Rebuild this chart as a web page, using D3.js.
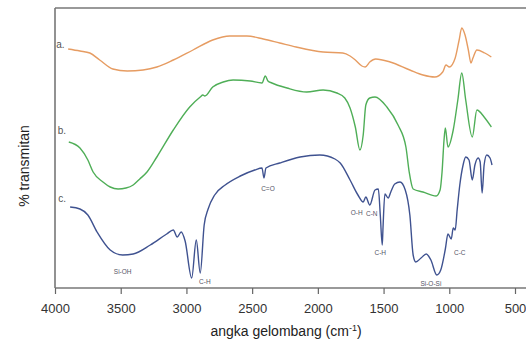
<!DOCTYPE html>
<html>
<head>
<meta charset="utf-8">
<script src="https://cdn.jsdelivr.net/npm/d3@7.9.0/dist/d3.min.js"></script>
<style>
  body { margin: 0; background: #fff; }
  svg { display: block; font-family: Arial, "Liberation Sans", sans-serif; }
</style>
</head>
<body>
<svg width="526" height="344"></svg>
<script>
// wavenumbers (cm-1) and relative transmittance (offset per spectrum)
const waveA = [3900, 3810, 3735, 3660, 3560, 3450, 3330, 3225, 3100, 2950, 2800, 2670, 2540, 2415, 2290, 2165, 1960, 1810, 1755, 1715, 1665, 1640, 1605, 1560, 1450, 1300, 1200, 1110, 1050, 1025, 1000, 955, 925, 905, 880, 855, 835, 820, 790, 730, 680];
const transA = [119.5, 118.5, 117.5, 114, 109.5, 108.5, 109, 110.5, 114, 119, 124, 126, 126, 124.5, 122.5, 120.5, 118, 117.5, 116, 114, 111, 110.5, 113, 114.5, 113, 109, 106.5, 105.5, 108, 111.5, 110.5, 115, 124, 130, 126.5, 119, 112.5, 115, 119, 117.5, 115.5];

const waveB = [3895, 3810, 3750, 3710, 3635, 3580, 3520, 3460, 3405, 3355, 3300, 3225, 3100, 2975, 2895, 2875, 2860, 2800, 2720, 2645, 2515, 2425, 2400, 2380, 2350, 2235, 2085, 1960, 1855, 1795, 1755, 1715, 1680, 1655, 1635, 1605, 1565, 1475, 1390, 1330, 1305, 1275, 1200, 1100, 1070, 1055, 1040, 1030, 1010, 970, 935, 905, 875, 825, 790, 735, 680];
const transB = [73, 70, 64, 58, 53, 50.5, 49.5, 50, 51.5, 54.5, 58, 65.5, 79, 90.5, 95.5, 96.5, 96, 100.5, 103, 104, 103.5, 102.5, 106, 103.5, 102.5, 100, 98, 99, 97.5, 95, 90, 80.5, 69, 76.5, 91.5, 95, 95.5, 90.5, 81.5, 70.5, 58, 49.5, 48, 46, 49, 58, 74, 80, 70.5, 79, 94, 107.5, 94, 75.5, 89, 85.5, 80.5];

const waveC = [3885, 3810, 3750, 3680, 3580, 3485, 3405, 3275, 3150, 3100, 3070, 3040, 3010, 2960, 2925, 2895, 2865, 2835, 2785, 2705, 2590, 2480, 2425, 2410, 2395, 2290, 2135, 1985, 1870, 1830, 1755, 1695, 1655, 1635, 1605, 1565, 1540, 1525, 1510, 1505, 1490, 1465, 1445, 1415, 1375, 1335, 1300, 1275, 1255, 1215, 1175, 1140, 1095, 1065, 1030, 1010, 985, 970, 955, 940, 920, 895, 875, 850, 825, 805, 780, 765, 750, 735, 715, 690, 675];
const transC = [40.5, 39.5, 36.5, 28, 19, 16.5, 17, 21.5, 27, 29, 25.5, 28, 23.5, 5, 24, 7.5, 31.5, 39.5, 46.5, 51.5, 56, 59, 60, 55, 60, 62.5, 65.5, 66.5, 64.5, 62.5, 54, 46.5, 43, 45.5, 41.5, 49, 49.5, 36.5, 21.5, 29, 47, 45, 48, 52, 53, 49, 36.5, 16.5, 13, 15, 17, 14, 6.5, 9, 19.5, 27, 24.5, 30, 29, 39, 51.5, 61.5, 65.5, 64, 54, 61.5, 65, 63, 47.5, 61.5, 66.5, 65, 61.5];

const seriesNames = ['a.', 'b.', 'c.'];
const seriesColors = ['#e69c62', '#4fae57', '#3f5290'];
const nameWave = [3990, 3980, 3975];
const nameTrans = [122, 79, 45];

// band assignments on spectrum c
const bandText = ['Si-OH', 'C-H', 'C=O', 'O-H', 'C-N', 'C-H', 'Si-O-Si', 'C-C'];
const bandWave = [3485, 2860, 2380, 1705, 1590, 1525, 1140, 920];
const bandTrans = [8, 3, 49.5, 37.5, 37, 17.5, 2, 17.5];

const xTicks = [4000, 3500, 3000, 2500, 2000, 1500, 1000, 500];

const svg = d3.select('svg');
const plotLeft = 55, plotRight = 515, plotTop = 8, plotBottom = 288;

const x = d3.scaleLinear().domain([4000, 500]).range([plotLeft, plotRight]);
const y = d3.scaleLinear().domain([0, 140]).range([plotBottom, plotTop]);

// frame
svg.append('line').attr('x1', plotLeft).attr('x2', 526).attr('y1', plotTop).attr('y2', plotTop)
  .attr('stroke', '#777').attr('stroke-width', 1.6);
svg.append('line').attr('x1', plotLeft).attr('x2', plotLeft).attr('y1', plotTop).attr('y2', plotBottom)
  .attr('stroke', '#777').attr('stroke-width', 1.6);
svg.append('line').attr('x1', plotLeft).attr('x2', 526).attr('y1', plotBottom).attr('y2', plotBottom)
  .attr('stroke', '#777').attr('stroke-width', 1.6);

const xAxis = d3.axisBottom(x).tickValues(xTicks).tickFormat(d3.format('d'))
  .tickSizeInner(6).tickSizeOuter(0).tickPadding(10);
const gx = svg.append('g').attr('transform', `translate(0,${plotBottom})`).call(xAxis);
gx.select('.domain').remove();
gx.selectAll('line').attr('stroke', '#666').attr('stroke-width', 1.2);
gx.selectAll('text').attr('fill', '#333').style('font-size', '13px');

const line = d3.line()
  .x((d) => x(d[0]))
  .y((d) => y(d[1]))
  .curve(d3.curveMonotoneX);

const spectra = [
  d3.zip(waveA, transA),
  d3.zip(waveB, transB),
  d3.zip(waveC, transC),
];

spectra.forEach((pts, i) => {
  svg.append('path')
    .attr('d', line(pts))
    .attr('fill', 'none')
    .attr('stroke', seriesColors[i])
    .attr('stroke-width', 1.4)
    .attr('stroke-linejoin', 'round');
  svg.append('text')
    .attr('x', x(nameWave[i]))
    .attr('y', y(nameTrans[i]))
    .attr('dy', '0.35em')
    .attr('fill', '#555')
    .style('font-size', '10px')
    .text(seriesNames[i]);
});

bandText.forEach((t, i) => {
  svg.append('text')
    .attr('x', x(bandWave[i]))
    .attr('y', y(bandTrans[i]))
    .attr('dy', '0.35em')
    .attr('text-anchor', 'middle')
    .attr('fill', '#556')
    .style('font-size', '6.5px')
    .text(t);
});

// axis titles
svg.append('text')
  .attr('x', 286).attr('y', 336)
  .attr('text-anchor', 'middle')
  .attr('fill', '#222')
  .style('font-size', '14px')
  .html('angka gelombang (cm<tspan dy="-5" font-size="9px">-1</tspan><tspan dy="5">)</tspan>');

svg.append('text')
  .attr('transform', 'translate(29,166) rotate(-90)')
  .attr('text-anchor', 'middle')
  .attr('fill', '#222')
  .style('font-size', '14px')
  .text('% transmitan');
</script>
</body>
</html>
